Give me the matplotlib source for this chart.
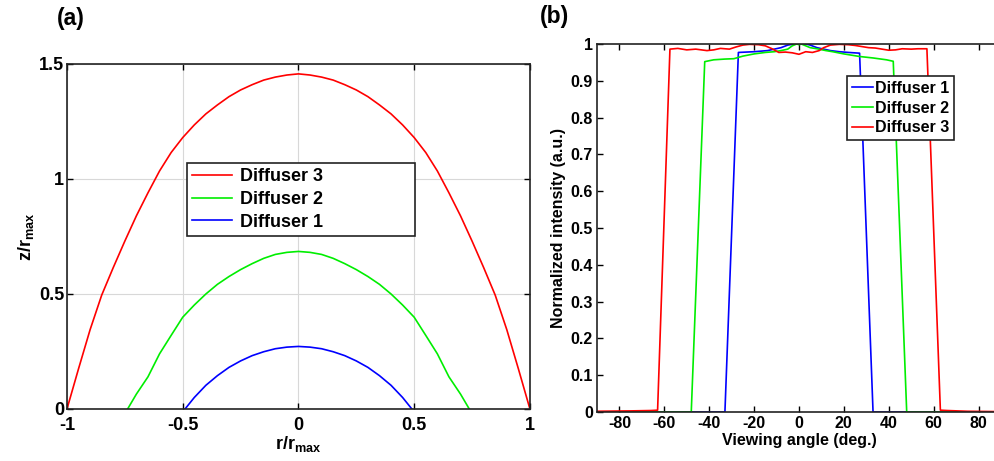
import numpy as np
import matplotlib
matplotlib.use("Agg")
import matplotlib.pyplot as plt

plt.rcParams['font.family'] = ['Liberation Sans', 'DejaVu Sans']
plt.rcParams['font.weight'] = 'bold'
plt.rcParams['axes.labelweight'] = 'bold'
plt.rcParams['axes.unicode_minus'] = False
plt.rcParams['mathtext.fontset'] = 'custom'
plt.rcParams['mathtext.rm'] = 'Liberation Sans:bold'
plt.rcParams['mathtext.it'] = 'Liberation Sans:bold'
plt.rcParams['mathtext.bf'] = 'Liberation Sans:bold'
plt.rcParams['mathtext.default'] = 'rm'

r3_half = [0.0, 0.05, 0.1, 0.15, 0.2, 0.25, 0.3, 0.35, 0.4, 0.45, 0.5, 0.55, 0.6,
           0.65, 0.7, 0.75, 0.8, 0.85, 0.9, 0.95, 1.0]
z3_half = [1.457, 1.452, 1.443, 1.43, 1.41, 1.387, 1.358, 1.322, 1.283, 1.235, 1.18,
           1.115, 1.035, 0.94, 0.84, 0.73, 0.615, 0.495, 0.345, 0.175, 0.0]

r2_half = [0.0, 0.05, 0.1, 0.15, 0.2, 0.25, 0.3, 0.35, 0.4, 0.45, 0.5, 0.55, 0.6,
           0.65, 0.7, 0.738]
z2_half = [0.685, 0.681, 0.672, 0.655, 0.632, 0.606, 0.576, 0.542, 0.5, 0.452, 0.399,
           0.32, 0.24, 0.14, 0.065, 0.0]

r1_half = [0.0, 0.05, 0.1, 0.15, 0.2, 0.25, 0.3, 0.35, 0.4, 0.45, 0.49]
z1_half = [0.272, 0.269, 0.262, 0.249, 0.232, 0.209, 0.181, 0.145, 0.103, 0.05, 0.0]


def mirror(r, z):
    r = np.asarray(r)
    z = np.asarray(z)
    return np.concatenate([-r[:0:-1], r]), np.concatenate([z[:0:-1], z])


# ---- panel (b): angular intensity
ang1 = [-90, -33, -27, -20, -14, -11, -8, -5, -2, 0, 3, 5, 8, 11, 14, 18, 22, 27, 33, 90]
int1 = [0, 0, 0.977, 0.979, 0.982, 0.986, 0.99, 0.997, 1.0, 1.0, 1.0, 0.997, 0.99,
        0.986, 0.982, 0.979, 0.977, 0.975, 0, 0]

ang2 = [-90, -48, -42, -38, -33, -29, -25, -20, -15, -11, -8, -5, -3, -1, 0, 1, 3, 5,
        8, 12, 15, 20, 27, 33, 39, 42, 48, 90]
int2 = [0, 0, 0.952, 0.957, 0.959, 0.960, 0.967, 0.973, 0.977, 0.979, 0.982, 0.986,
        0.995, 1.0, 0.998, 1.0, 0.995, 0.99, 0.987, 0.982, 0.979, 0.973, 0.966, 0.962,
        0.957, 0.953, 0, 0]

ang3 = [-90, -75, -66, -63, -57.5, -54, -50, -46, -41, -38, -35, -31, -28, -25, -22,
        -18, -15, -12, -9, -6, -3, 0, 3, 6, 9, 11, 14, 18, 22, 25, 28, 31, 34, 37, 40,
        43, 46, 50, 53, 57, 63, 66, 75, 90]
int3 = [0.002, 0.003, 0.004, 0.005, 0.986, 0.988, 0.984, 0.986, 0.982, 0.984, 0.988,
        0.986, 0.992, 0.997, 0.999, 0.998, 0.995, 0.987, 0.977, 0.978, 0.976, 0.972,
        0.979, 0.977, 0.982, 0.99, 0.997, 0.999, 0.998, 0.996, 0.993, 0.99, 0.989,
        0.986, 0.983, 0.984, 0.987, 0.986, 0.987, 0.987, 0.005, 0.004, 0.002, 0.001]

fig = plt.figure(figsize=(9.95, 4.61), dpi=100)

ax1 = fig.add_axes([0.0673, 0.1128, 0.4653, 0.7484])
ax2 = fig.add_axes([0.6, 0.1063, 0.406, 0.7983])

for ax in (ax1, ax2):
    for s in ax.spines.values():
        s.set_linewidth(1.2)
        s.set_color('#222222')
    ax.tick_params(direction='in', top=True, right=True, length=4, width=1.0)

# (a)
x3, y3 = mirror(r3_half, z3_half)
x2, y2 = mirror(r2_half, z2_half)
x1, y1 = mirror(r1_half, z1_half)
ax1.plot(x3, y3, color='red', lw=1.2, label='Diffuser 3')
ax1.plot(x2, y2, color='#00ee00', lw=1.2, label='Diffuser 2')
ax1.plot(x1, y1, color='blue', lw=1.2, label='Diffuser 1')
ax1.set_xlim(-1, 1)
ax1.set_ylim(0, 1.5)
ax1.set_xticks([-1, -0.5, 0, 0.5, 1])
ax1.set_xticklabels(['-1', '-0.5', '0', '0.5', '1'])
ax1.set_yticks([0, 0.5, 1, 1.5])
ax1.set_yticklabels(['0', '0.5', '1', '1.5'])
ax1.tick_params(axis='x', labelsize=13, pad=6)
ax1.tick_params(axis='y', labelsize=13, pad=2)
ax1.grid(True, color='#d8d8d8', lw=0.8)
ax1.set_axisbelow(True)
ax1.set_xlabel(r'r/r$_{\mathrm{max}}$', fontsize=13, labelpad=0)
ax1.set_ylabel(r'z/r$_{\mathrm{max}}$', fontsize=13, labelpad=2)
leg1 = ax1.legend(loc='lower left', bbox_to_anchor=(0.259, 0.501, 0.493, 0.212),
                  mode='expand', borderaxespad=0, fontsize=13, handlelength=2.2,
                  handletextpad=0.45, labelspacing=0.32, borderpad=0.3,
                  fancybox=False, framealpha=1)
leg1.get_frame().set_edgecolor('#222222')
leg1.get_frame().set_linewidth(1.2)

# (b)
ax2.plot(ang1, int1, color='blue', lw=1.2, label='Diffuser 1')
ax2.plot(ang2, int2, color='#00ee00', lw=1.2, label='Diffuser 2')
ax2.plot(ang3, int3, color='red', lw=1.2, label='Diffuser 3')
ax2.set_xlim(-90, 90)
ax2.set_ylim(0, 1)
ax2.set_xticks(np.arange(-80, 81, 20))
ax2.set_xticklabels([str(v) for v in range(-80, 81, 20)])
ax2.set_yticks(np.arange(0, 1.01, 0.1))
ax2.set_yticklabels(['0', '0.1', '0.2', '0.3', '0.4', '0.5', '0.6', '0.7', '0.8', '0.9', '1'])
ax2.tick_params(labelsize=11.5, pad=3)
ax2.set_xlabel('Viewing angle (deg.)', fontsize=11.5, labelpad=1)
ax2.set_ylabel('Normalized intensity (a.u.)', fontsize=11.5, labelpad=3)
leg2 = ax2.legend(loc='upper left', bbox_to_anchor=(0.619, 0.913), borderaxespad=0,
                  fontsize=11.5, handlelength=1.3, handletextpad=0.15,
                  labelspacing=0.3, borderpad=0.3, fancybox=False, framealpha=1)
leg2.get_frame().set_edgecolor('#222222')
leg2.get_frame().set_linewidth(1.2)

fig.text(57 / 995, 1 - 18 / 461, '(a)', fontsize=16.5, va='center', ha='left')
fig.text(540 / 995, 1 - 16 / 461, '(b)', fontsize=16.5, va='center', ha='left')

fig.savefig('out.png', dpi=100)
